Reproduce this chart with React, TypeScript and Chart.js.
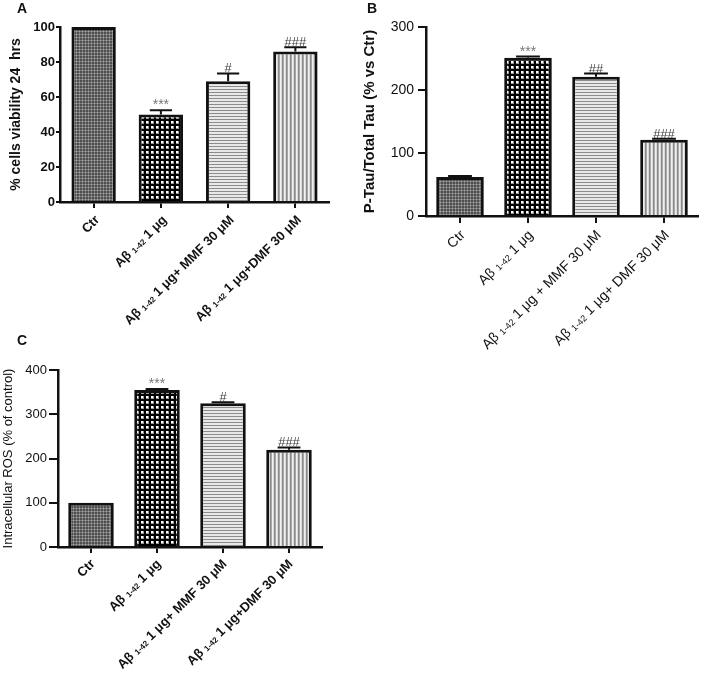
import React, { useEffect, useRef } from "react";
import { Chart, registerables } from "chart.js";

Chart.register(...registerables);

// ---------- DATA ----------
const categoriesA = ["Ctr", "Aβ {1-42} 1 μg", "Aβ {1-42} 1 μg+ MMF 30 μM", "Aβ {1-42} 1 μg+DMF 30 μM"];
const viabilityA = [100, 50, 69, 86];
const viabilityErrA = [0, 2.5, 4.5, 2.5];
const signifA = ["", "***", "#", "###"];
const ticksA = [0, 20, 40, 60, 80, 100];

const categoriesB = ["Ctr", "Aβ {1-42} 1 μg", "Aβ {1-42} 1 μg + MMF 30 μM", "Aβ {1-42} 1 μg+ DMF 30 μM"];
const tauB = [62, 251, 221, 121];
const tauErrB = [1.5, 2, 5, 1.5];
const signifB = ["", "***", "##", "###"];
const ticksB = [0, 100, 200, 300];

const categoriesC = ["Ctr", "Aβ {1-42} 1 μg", "Aβ {1-42} 1 μg+ MMF 30 μM", "Aβ {1-42} 1 μg+DMF 30 μM"];
const rosC = [100, 355, 325, 220];
const rosErrC = [0, 2, 2, 5];
const signifC = ["", "***", "#", "###"];
const ticksC = [0, 100, 200, 300, 400];

const FAMILY = "'Liberation Sans', Arial, Helvetica, sans-serif";

type PanelCfg = {
  letter: string;
  letterLeft: number;
  letterTop: number;
  left: number;
  top: number;
  width: number;
  height: number;
  labels: string[];
  values: number[];
  errors: number[];
  signif: string[];
  ticks: number[];
  yMax: number;
  yTitle: string;
  titleSize: number;
  titleBold: boolean;
  titlePadTop: number;
  tickSize: number;
  tickBold: boolean;
  labelSize: number;
  labelBold: boolean;
  padTop: number;
  padRight: number;
  yAxisWidth: number;
  xAxisHeight: number;
  yTickLength: number;
  yTickPad: number;
  xTickLength: number;
  barPct: number;
  labelDx: number;
  labelDy: number;
};

const panels: PanelCfg[] = [
  {
    letter: "A", letterLeft: 17, letterTop: 1,
    left: 0, top: 0, width: 345, height: 340,
    labels: categoriesA, values: viabilityA, errors: viabilityErrA, signif: signifA, ticks: ticksA,
    yMax: 100, yTitle: "% cells viability 24  hrs",
    titleSize: 14, titleBold: true, titlePadTop: 7.6,
    tickSize: 13, tickBold: true, labelSize: 13, labelBold: true,
    padTop: 27, padRight: 16, yAxisWidth: 60, xAxisHeight: 138,
    yTickLength: 4, yTickPad: 1, xTickLength: 6, barPct: 0.66, labelDx: 4, labelDy: 16,
  },
  {
    letter: "B", letterLeft: 367, letterTop: 1,
    left: 355, top: 0, width: 354, height: 370,
    labels: categoriesB, values: tauB, errors: tauErrB, signif: signifB, ticks: ticksB,
    yMax: 300, yTitle: "P-Tau/Total Tau (% vs Ctr)",
    titleSize: 15, titleBold: true, titlePadTop: 6,
    tickSize: 14, tickBold: false, labelSize: 14, labelBold: false,
    padTop: 27, padRight: 11, yAxisWidth: 71, xAxisHeight: 154,
    yTickLength: 8, yTickPad: 4, xTickLength: 7, barPct: 0.7, labelDx: 3, labelDy: 17,
  },
  {
    letter: "C", letterLeft: 17, letterTop: 333,
    left: 0, top: 330, width: 345, height: 345,
    labels: categoriesC, values: rosC, errors: rosErrC, signif: signifC, ticks: ticksC,
    yMax: 400, yTitle: "Intracellular ROS (% of control)",
    titleSize: 13, titleBold: false, titlePadTop: 0.7,
    tickSize: 13, tickBold: false, labelSize: 13, labelBold: true,
    padTop: 40, padRight: 23, yAxisWidth: 58, xAxisHeight: 128,
    yTickLength: 9, yTickPad: 2, xTickLength: 6, barPct: 0.69, labelDx: 2, labelDy: 15,
  },
];

// ---------- PATTERNS ----------
function makePattern(kind: string): CanvasPattern | string {
  const c = document.createElement("canvas");
  const g = c.getContext("2d");
  if (!g) return "#888";
  if (kind === "ctr") {
    c.width = 3; c.height = 3;
    g.fillStyle = "#4e4e4e"; g.fillRect(0, 0, 3, 3);
    g.fillStyle = "#7c7c7c"; g.fillRect(1, 0, 1, 3); g.fillRect(0, 1, 3, 1);
    g.fillStyle = "#a4a4a4"; g.fillRect(1, 1, 1, 1);
  } else if (kind === "check") {
    c.width = 5; c.height = 5;
    g.fillStyle = "#000"; g.fillRect(0, 0, 5, 5);
    g.fillStyle = "#9a9a9a"; g.fillRect(1, 1, 3, 3);
    g.fillStyle = "#fff"; g.fillRect(1, 1, 2, 2);
  } else if (kind === "hline") {
    c.width = 4; c.height = 3;
    g.fillStyle = "#e8e8e8"; g.fillRect(0, 0, 4, 3);
    g.fillStyle = "#8c8c8c"; g.fillRect(0, 2, 4, 1);
  } else {
    c.width = 4; c.height = 4;
    g.fillStyle = "#f0f0f0"; g.fillRect(0, 0, 4, 4);
    g.fillStyle = "#dadada"; g.fillRect(1, 0, 1, 4);
    g.fillStyle = "#8a8a8a"; g.fillRect(2, 0, 1, 4);
    g.fillStyle = "#a8a8a8"; g.fillRect(3, 0, 1, 4);
  }
  return g.createPattern(c, "repeat") || "#888";
}

function parseLabel(label: string) {
  return label
    .split(/(\{[^}]*\})/)
    .filter((s) => s.length > 0)
    .map((s) => (s.startsWith("{") ? { t: s.slice(1, -1), sub: true } : { t: s, sub: false }));
}

function makePlugin(cfg: PanelCfg) {
  return {
    id: "annot" + cfg.letter,
    afterDatasetsDraw(chart: any) {
      const ctx: CanvasRenderingContext2D = chart.ctx;
      const meta = chart.getDatasetMeta(0);
      const ys = chart.scales.y;
      meta.data.forEach((bar: any, i: number) => {
        const err = cfg.errors[i];
        const topY = ys.getPixelForValue(cfg.values[i] + err);
        const half = bar.width * 0.25;
        ctx.save();
        ctx.strokeStyle = "#111";
        ctx.lineWidth = 2;
        if (err > 0) {
          ctx.beginPath();
          ctx.moveTo(bar.x, bar.y);
          ctx.lineTo(bar.x, topY);
          ctx.moveTo(bar.x - half, topY);
          ctx.lineTo(bar.x + half, topY);
          ctx.stroke();
        }
        const s = cfg.signif[i];
        if (s) {
          const star = s.startsWith("*");
          ctx.font = `${star ? 14 : 13}px ${FAMILY}`;
          ctx.fillStyle = star ? "#777" : "#444";
          ctx.textAlign = "center";
          ctx.textBaseline = "alphabetic";
          ctx.fillText(s, bar.x, topY - 1);
        }
        ctx.restore();
      });
    },
    afterDraw(chart: any) {
      const ctx: CanvasRenderingContext2D = chart.ctx;
      const xs = chart.scales.x;
      const weight = cfg.labelBold ? "bold " : "";
      const mainFont = `${weight}${cfg.labelSize}px ${FAMILY}`;
      const subFont = `${weight}${Math.round(cfg.labelSize * 0.65)}px ${FAMILY}`;
      cfg.labels.forEach((label, i) => {
        const x = xs.getPixelForTick(i) + cfg.labelDx;
        const y = xs.top + cfg.labelDy;
        const parts = parseLabel(label);
        const widths = parts.map((p) => {
          ctx.font = p.sub ? subFont : mainFont;
          return ctx.measureText(p.t).width;
        });
        const total = widths.reduce((a, b) => a + b, 0);
        ctx.save();
        ctx.translate(x, y);
        ctx.rotate(-Math.PI / 4);
        ctx.fillStyle = "#111";
        ctx.textAlign = "left";
        ctx.textBaseline = "middle";
        let cx = -total;
        parts.forEach((p, k) => {
          ctx.font = p.sub ? subFont : mainFont;
          ctx.fillText(p.t, cx, p.sub ? 2 : 0);
          cx += widths[k];
        });
        ctx.restore();
      });
    },
  };
}

function Panel({ cfg }: { cfg: PanelCfg }) {
  const ref = useRef<HTMLCanvasElement>(null);
  useEffect(() => {
    const canvas = ref.current;
    if (!canvas) return;
    const fills = [makePattern("ctr"), makePattern("check"), makePattern("hline"), makePattern("vline")];
    const chart = new Chart(canvas, {
      type: "bar",
      data: {
        labels: cfg.labels.map((l) => l.replace(/[{}]/g, "")),
        datasets: [
          {
            data: cfg.values,
            backgroundColor: fills as any,
            borderColor: "#111",
            borderWidth: 3,
            categoryPercentage: 1,
            barPercentage: cfg.barPct,
          },
        ],
      },
      options: {
        animation: false,
        responsive: false,
        devicePixelRatio: 1,
        layout: { padding: { left: 0, top: cfg.padTop, right: cfg.padRight, bottom: 0 } },
        plugins: { legend: { display: false }, tooltip: { enabled: false } },
        scales: {
          x: {
            afterFit: (s: any) => { s.height = cfg.xAxisHeight; },
            grid: { drawOnChartArea: false, offset: false, tickLength: cfg.xTickLength, color: "#111", lineWidth: 2 },
            border: { display: true, color: "#111", width: 2.5 },
            ticks: { display: false },
          },
          y: {
            min: 0,
            max: cfg.yMax,
            afterBuildTicks: (s: any) => { s.ticks = cfg.ticks.map((v) => ({ value: v })); },
            afterFit: (s: any) => { s.width = cfg.yAxisWidth; },
            grid: { drawOnChartArea: false, tickLength: cfg.yTickLength, color: "#111", lineWidth: 2 },
            border: { display: true, color: "#111", width: 2.5 },
            ticks: {
              color: "#111",
              padding: cfg.yTickPad,
              font: { family: FAMILY, size: cfg.tickSize, weight: cfg.tickBold ? "bold" : "normal" },
            },
            title: {
              display: true,
              text: cfg.yTitle,
              color: "#111",
              padding: { top: cfg.titlePadTop, bottom: 0 },
              font: { family: FAMILY, size: cfg.titleSize, weight: cfg.titleBold ? "bold" : "normal" },
            },
          },
        },
      } as any,
      plugins: [makePlugin(cfg)],
    });
    return () => chart.destroy();
  }, [cfg]);
  return (
    <canvas
      ref={ref}
      width={cfg.width}
      height={cfg.height}
      style={{ position: "absolute", left: cfg.left, top: cfg.top, width: cfg.width, height: cfg.height }}
    />
  );
}

export default function App() {
  return (
    <div style={{ position: "absolute", left: 0, top: 0, width: 709, height: 675, background: "#fff", overflow: "hidden" }}>
      {panels.map((p) => (
        <Panel key={p.letter} cfg={p} />
      ))}
      {panels.map((p) => (
        <div
          key={"l" + p.letter}
          style={{
            position: "absolute",
            left: p.letterLeft,
            top: p.letterTop,
            font: `bold 14px ${FAMILY}`,
            lineHeight: "14px",
            color: "#111",
          }}
        >
          {p.letter}
        </div>
      ))}
    </div>
  );
}
